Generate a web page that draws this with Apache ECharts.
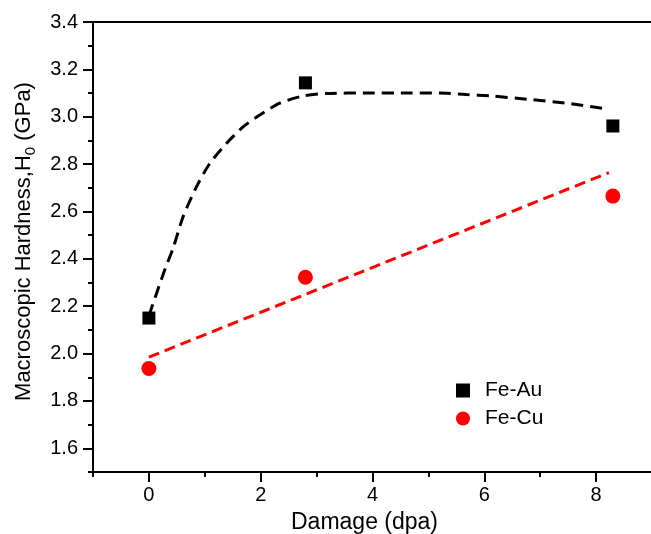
<!DOCTYPE html>
<html>
<head>
<meta charset="utf-8">
<script src="https://cdn.jsdelivr.net/npm/echarts@6/dist/echarts.min.js"></script>
<style>
  html, body { margin: 0; padding: 0; background: #fff; }
  #chart { width: 651px; height: 534px; }
</style>
</head>
<body>
<div id="chart"></div>
<script>
// Measured hardness per alloy at each damage level
const damage = [0, 2.8, 8.3];
const feAu = [2.15, 3.143, 2.961];
const feCu = [1.937, 2.322, 2.665];

// Guide-to-the-eye trend for Fe-Au (points along the dashed curve)
const auTrendX = [0, 0.26, 0.44, 0.61, 0.85, 1.09, 1.39, 1.69, 1.99, 2.34, 2.76, 3.18, 3.9, 4.67, 5.2, 5.68, 6.1, 6.76, 7.47, 8.2];
const auTrendY = [2.16, 2.338, 2.45, 2.577, 2.704, 2.803, 2.888, 2.958, 3.008, 3.057, 3.088, 3.098, 3.10, 3.10, 3.10, 3.094, 3.088, 3.074, 3.057, 3.033];

// Linear trend for Fe-Cu (end points of the dashed line)
const cuTrendX = [0, 8.23];
const cuTrendY = [1.985, 2.764];

// Axis ticks
const xMajorTicks = [0, 2, 4, 6, 8];
const yMajorTicks = [1.6, 1.8, 2.0, 2.2, 2.4, 2.6, 2.8, 3.0, 3.2, 3.4];

const FONT = '"Liberation Sans", Arial, sans-serif';
const zip = (xs, ys) => xs.map((x, i) => [x, ys[i]]);

const chart = echarts.init(document.getElementById('chart'));

const tickStyle = { color: '#000', width: 2 };
const axisLineStyle = { show: true, onZero: false, lineStyle: { color: '#000', width: 2 } };
const hiddenLine = { show: false, onZero: false };

chart.setOption({
  animation: false,
  backgroundColor: '#fff',
  grid: { left: 93, top: 22, width: 559, height: 450, outerBoundsMode: 'none', containLabel: false },
  legend: {
    orient: 'vertical',
    left: 456, top: 380, padding: 0,
    itemWidth: 14, itemHeight: 14, itemGap: 7,
    data: ['Fe-Au', 'Fe-Cu'],
    textStyle: { fontFamily: FONT, fontSize: 21, color: '#000', padding: [0, 0, 0, 10] }
  },
  xAxis: [
    {
      type: 'value', min: -1, max: 9, position: 'bottom',
      axisLine: axisLineStyle,
      axisTick: { show: true, inside: false, length: 10, customValues: xMajorTicks, lineStyle: tickStyle },
      axisLabel: { customValues: xMajorTicks, margin: 13, fontFamily: FONT, fontSize: 20, color: '#000' },
      splitLine: { show: false },
      name: 'Damage (dpa)', nameLocation: 'middle', nameGap: 39,
      nameTextStyle: { fontFamily: FONT, fontSize: 23, color: '#000', padding: [0, 16, 0, 0] }
    },
    {
      // minor ticks along the bottom
      type: 'value', min: -1, max: 9, interval: 1, position: 'bottom',
      axisLine: hiddenLine,
      axisTick: { show: true, inside: false, length: 5, lineStyle: tickStyle },
      axisLabel: { show: false },
      splitLine: { show: false }
    },
    {
      // frame line along the top
      type: 'value', min: -1, max: 9, position: 'top',
      axisLine: axisLineStyle,
      axisTick: { show: false },
      axisLabel: { show: false },
      splitLine: { show: false }
    }
  ],
  yAxis: [
    {
      type: 'value', min: 1.5, max: 3.4, position: 'left',
      axisLine: axisLineStyle,
      axisTick: { show: true, inside: false, length: 10, customValues: yMajorTicks, lineStyle: tickStyle },
      axisLabel: {
        customValues: yMajorTicks, margin: 15, fontFamily: FONT, fontSize: 20, color: '#000',
        formatter: v => v.toFixed(1)
      },
      splitLine: { show: false },
      name: '{a|Macroscopic Hardness,H}{s|0}{a| (GPa)}',
      nameLocation: 'middle', nameGap: 55,
      nameTextStyle: {
        fontFamily: FONT, fontSize: 22, color: '#000', padding: [0, 0, 0, 11],
        rich: {
          a: { fontFamily: FONT, fontSize: 22, color: '#000', lineHeight: 28 },
          s: { fontFamily: FONT, fontSize: 15, color: '#000', lineHeight: 15, verticalAlign: 'bottom' }
        }
      }
    },
    {
      // minor ticks along the left
      type: 'value', min: 1.5, max: 3.4, interval: 0.1, position: 'left',
      axisLine: hiddenLine,
      axisTick: { show: true, inside: false, length: 5, lineStyle: tickStyle },
      axisLabel: { show: false },
      splitLine: { show: false }
    }
  ],
  series: [
    {
      name: 'Fe-Au trend', type: 'line', data: zip(auTrendX, auTrendY),
      smooth: 0.25, showSymbol: false, silent: true,
      lineStyle: { color: '#000', width: 3, type: [12, 7] }
    },
    {
      name: 'Fe-Cu trend', type: 'line', data: zip(cuTrendX, cuTrendY),
      showSymbol: false, silent: true,
      lineStyle: { color: '#ff0000', width: 3, type: [11, 6] }
    },
    {
      name: 'Fe-Au', type: 'scatter', data: zip(damage, feAu),
      symbol: 'rect', symbolSize: 13, itemStyle: { color: '#000', opacity: 1 }, z: 5
    },
    {
      name: 'Fe-Cu', type: 'scatter', data: zip(damage, feCu),
      symbol: 'circle', symbolSize: 15, itemStyle: { color: '#ff0000', opacity: 1 }, z: 5
    }
  ]
});
</script>
</body>
</html>
